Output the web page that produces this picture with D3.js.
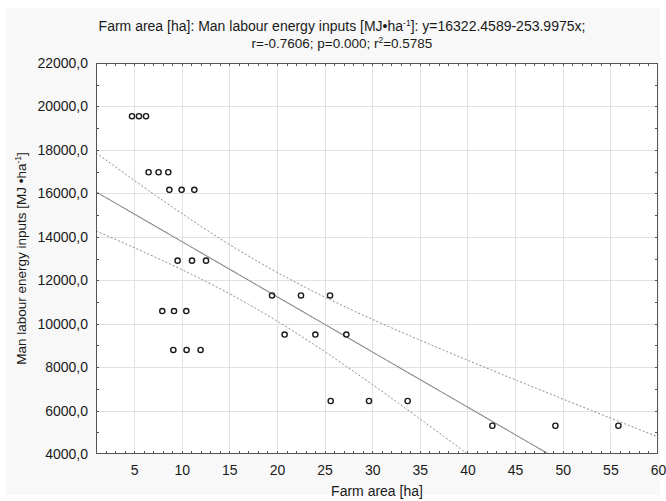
<!DOCTYPE html>
<html>
<head>
<meta charset="utf-8">
<script src="https://cdn.jsdelivr.net/npm/d3@7"></script>
<style>
  body { margin: 0; background: #ffffff; }
  svg { display: block; font-family: "Liberation Sans", Arial, sans-serif; }
</style>
</head>
<body>
<svg id="chart" width="666" height="501"></svg>
<script>
// Farm area [ha] for each surveyed farm
const farmArea = [
  4.78, 5.51, 6.25,
  6.52, 7.57, 8.59,
  8.70, 9.99, 11.32,
  9.57, 11.08, 12.55,
  7.96, 9.19, 10.48,
  9.12, 10.51, 11.98,
  19.48, 22.52, 25.57,
  20.80, 24.03, 27.28,
  25.64, 29.66, 33.72,
  42.61, 49.23, 55.84
];
// Man labour energy inputs [MJ·ha-1], same order as farmArea
const labourEnergy = [
  19550, 19550, 19550,
  16970, 16970, 16970,
  16160, 16160, 16160,
  12900, 12900, 12900,
  10580, 10580, 10580,
  8790, 8790, 8790,
  11300, 11300, 11300,
  9500, 9500, 9500,
  6440, 6440, 6440,
  5300, 5300, 5300
];
const xTicks = [5, 10, 15, 20, 25, 30, 35, 40, 45, 50, 55, 60];
const yTicks = [4000, 6000, 8000, 10000, 12000, 14000, 16000, 18000, 20000, 22000];
const xDomain = [1, 60];
const yDomain = [4000, 22000];

// Fitted regression and its statistics
const intercept = 16322.4589;
const slope = -253.9975;
const rValue = -0.7606;
const pValue = 0.000;
const r2Value = 0.5785;
const tCrit = 2.0484; // Student t, 0.975, df = 28

const svg = d3.select("#chart");
const W = 666, H = 501;
const plot = { left: 96, right: 658, top: 63, bottom: 454 };
const ink = "#1a1a1a";

// Panel background
svg.append("rect").attr("x", 0).attr("y", 0).attr("width", W).attr("height", H).attr("fill", "#ffffff");
svg.append("rect").attr("x", 6).attr("y", 8).attr("width", W - 12).attr("height", H - 14).attr("fill", "#f8f8f8");
svg.append("rect").attr("x", plot.left).attr("y", plot.top)
  .attr("width", plot.right - plot.left).attr("height", plot.bottom - plot.top).attr("fill", "#ffffff");

const x = d3.scaleLinear().domain(xDomain).range([plot.left, plot.right]);
const y = d3.scaleLinear().domain(yDomain).range([plot.bottom, plot.top]);

svg.append("defs").append("clipPath").attr("id", "plotClip")
  .append("rect").attr("x", plot.left).attr("y", plot.top)
  .attr("width", plot.right - plot.left).attr("height", plot.bottom - plot.top);

// Grid lines
const grid = svg.append("g").attr("stroke", "#e2e2e2").attr("stroke-width", 1).attr("shape-rendering", "crispEdges");
grid.selectAll(".gx").data(xTicks.filter(v => v < xDomain[1])).join("line")
  .attr("x1", d => Math.round(x(d)) + 0.5).attr("x2", d => Math.round(x(d)) + 0.5)
  .attr("y1", plot.top).attr("y2", plot.bottom);
grid.selectAll(".gy").data(yTicks.filter(v => v > yDomain[0] && v < yDomain[1])).join("line")
  .attr("y1", d => Math.round(y(d)) + 0.5).attr("y2", d => Math.round(y(d)) + 0.5)
  .attr("x1", plot.left).attr("x2", plot.right);

// Regression line and 95% confidence band of the mean
const n = farmArea.length;
const meanX = d3.mean(farmArea);
const sxx = d3.sum(farmArea, v => (v - meanX) ** 2);
const sse = d3.sum(farmArea, (v, i) => (labourEnergy[i] - (intercept + slope * v)) ** 2);
const se = Math.sqrt(sse / (n - 2));
const xs = d3.range(xDomain[0], xDomain[1] + 0.001, 0.25);
const band = xs.map(v => {
  const fit = intercept + slope * v;
  const h = tCrit * se * Math.sqrt(1 / n + (v - meanX) ** 2 / sxx);
  return { x: v, fit, lo: fit - h, hi: fit + h };
});

const fitG = svg.append("g").attr("clip-path", "url(#plotClip)").attr("fill", "none");
fitG.append("path").datum(band)
  .attr("d", d3.line().x(d => x(d.x)).y(d => y(d.fit)))
  .attr("stroke", "#8a8a8a").attr("stroke-width", 1.1);
["lo", "hi"].forEach(k => {
  fitG.append("path").datum(band)
    .attr("d", d3.line().x(d => x(d.x)).y(d => y(d[k])))
    .attr("stroke", "#8a8a8a").attr("stroke-width", 1).attr("stroke-dasharray", "2,2");
});

// Data points
svg.append("g").selectAll("circle").data(farmArea).join("circle")
  .attr("cx", d => x(d)).attr("cy", (d, i) => y(labourEnergy[i]))
  .attr("r", 2.6).attr("fill", "none").attr("stroke", ink).attr("stroke-width", 1.4);

// Frame and inward ticks
const frame = svg.append("g").attr("stroke", "#555555").attr("stroke-width", 1).attr("shape-rendering", "crispEdges");
frame.append("rect").attr("x", plot.left + 0.5).attr("y", plot.top + 0.5)
  .attr("width", plot.right - plot.left - 1).attr("height", plot.bottom - plot.top - 1).attr("fill", "none");
const xMinor = d3.range(2, 60, 1);
const yMinor = d3.range(5000, 22000, 1000);
frame.selectAll(".tb").data(xMinor).join("line")
  .attr("x1", d => Math.round(x(d)) + 0.5).attr("x2", d => Math.round(x(d)) + 0.5)
  .attr("y1", plot.bottom).attr("y2", plot.bottom - 3);
frame.selectAll(".tt").data(xMinor).join("line")
  .attr("x1", d => Math.round(x(d)) + 0.5).attr("x2", d => Math.round(x(d)) + 0.5)
  .attr("y1", plot.top).attr("y2", plot.top + 3);
frame.selectAll(".tl").data(yMinor).join("line")
  .attr("y1", d => Math.round(y(d)) + 0.5).attr("y2", d => Math.round(y(d)) + 0.5)
  .attr("x1", plot.left).attr("x2", plot.left + 3);
frame.selectAll(".tr").data(yMinor).join("line")
  .attr("y1", d => Math.round(y(d)) + 0.5).attr("y2", d => Math.round(y(d)) + 0.5)
  .attr("x1", plot.right).attr("x2", plot.right - 3);

// Tick labels via d3 axes (labels only; the frame is drawn above)
const fmtY = v => v.toFixed(1).replace(".", ",");
const xAxis = svg.append("g").attr("transform", `translate(0,${plot.bottom})`)
  .call(d3.axisBottom(x).tickValues(xTicks).tickSize(0).tickPadding(11).tickFormat(d => String(d)));
const yAxis = svg.append("g").attr("transform", `translate(${plot.left},0)`)
  .call(d3.axisLeft(y).tickValues(yTicks).tickSize(0).tickPadding(8).tickFormat(fmtY));
[xAxis, yAxis].forEach(a => {
  a.select(".domain").remove();
  a.selectAll("text").attr("fill", ink).attr("font-size", 14)
    .attr("font-family", "'Liberation Sans', Arial, sans-serif");
});

// Axis titles
svg.append("text").attr("x", (plot.left + plot.right) / 2).attr("y", 496)
  .attr("text-anchor", "middle").attr("font-size", 14).attr("fill", ink)
  .text("Farm area [ha]");

const yTitle = svg.append("text")
  .attr("transform", `translate(26,${(plot.top + plot.bottom) / 2}) rotate(-90)`)
  .attr("text-anchor", "middle").attr("font-size", 13.5).attr("fill", ink);
yTitle.append("tspan").text("Man labour energy inputs [MJ •ha");
yTitle.append("tspan").attr("font-size", 8.5).attr("dy", -5).text("-1");
yTitle.append("tspan").attr("dy", 5).text("]");

// Chart title (plain hyphen-minus, as in the statistics printout)
const f4 = v => v.toFixed(4);
const t1 = svg.append("text").attr("x", 342).attr("y", 31)
  .attr("text-anchor", "middle").attr("font-size", 14).attr("fill", ink);
t1.append("tspan").text("Farm area [ha]: Man labour energy inputs [MJ•ha");
t1.append("tspan").attr("font-size", 8.5).attr("dy", -5).text("-1");
t1.append("tspan").attr("dy", 5)
  .text(`]: y=${f4(intercept)}${slope < 0 ? "-" : "+"}${f4(Math.abs(slope))}x;`);
const t2 = svg.append("text").attr("x", 342).attr("y", 48)
  .attr("text-anchor", "middle").attr("font-size", 13.5).attr("fill", ink);
t2.append("tspan").text(`r=${f4(rValue)}; p=${pValue.toFixed(3)}; r`);
t2.append("tspan").attr("font-size", 8.5).attr("dy", -5).text("2");
t2.append("tspan").attr("dy", 5).text(`=${f4(r2Value)}`);
</script>
</body>
</html>
